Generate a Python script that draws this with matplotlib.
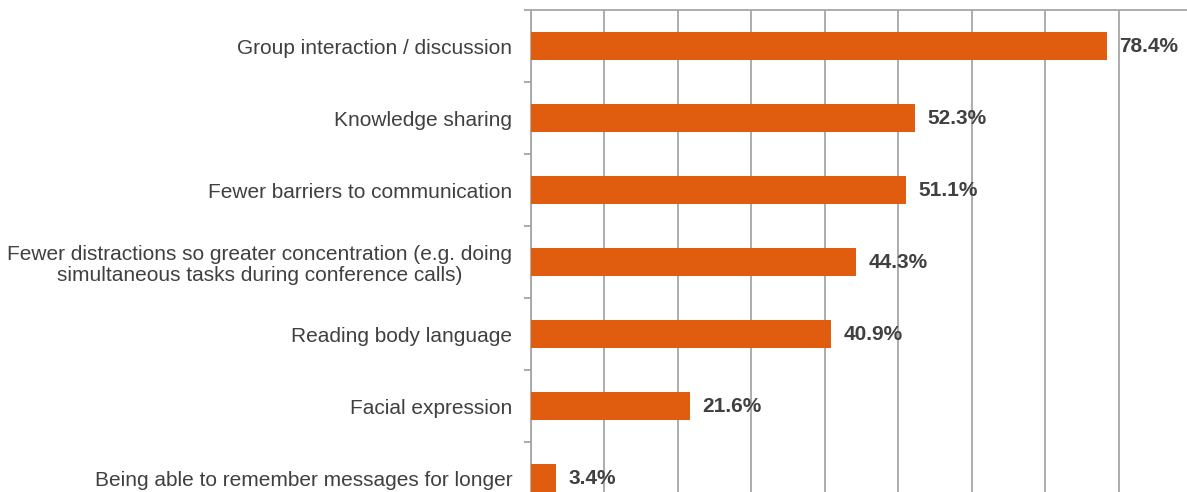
import matplotlib.pyplot as plt
from matplotlib.ticker import FixedLocator

categories = [
    "Group interaction / discussion",
    "Knowledge sharing",
    "Fewer barriers to communication",
    "Fewer distractions so greater concentration (e.g. doing\nsimultaneous tasks during conference calls)",
    "Reading body language",
    "Facial expression",
    "Being able to remember messages for longer",
]
values = [78.4, 52.3, 51.1, 44.3, 40.9, 21.6, 3.4]

plt.rcParams["font.family"] = ["Liberation Sans", "DejaVu Sans"]

fig = plt.figure(figsize=(11.87, 4.92), dpi=100)
ax = fig.add_axes([531 / 1187, 1 - 514 / 492, 661 / 1187, 504 / 492])

ypos = list(range(len(categories)))
ax.barh(ypos, values, height=0.4, color="#E05D10", zorder=3)

for y, v in zip(ypos, values):
    ax.annotate(f"{v}%", (v, y), xytext=(9, 0), textcoords="offset points",
                va="center", ha="left", fontsize=15, fontweight="bold",
                color="#404040", zorder=4)

ax.set_xlim(0, 90)
ax.set_ylim(len(categories) - 0.5, -0.5)
ax.set_xticks(range(0, 91, 10))
ax.tick_params(axis="x", length=0, labelbottom=False)
ax.grid(axis="x", color="#A6A6A6", linewidth=1.3, zorder=0)

ax.set_yticks(ypos)
ax.set_yticklabels(categories, fontsize=15, color="#404040", ha="right",
                   multialignment="center", linespacing=1.15)
ax.yaxis.set_minor_locator(FixedLocator([i - 0.5 for i in range(len(categories) + 1)]))
ax.tick_params(axis="y", which="major", length=0, pad=13.5)
ax.tick_params(axis="y", which="minor", length=5, color="#A6A6A6", width=1.3)

for s in ["right", "bottom"]:
    ax.spines[s].set_visible(False)
ax.spines["left"].set_color("#A6A6A6")
ax.spines["left"].set_linewidth(1.3)
ax.spines["top"].set_color("#A6A6A6")
ax.spines["top"].set_linewidth(1.3)

fig.savefig("out.png", dpi=100)
